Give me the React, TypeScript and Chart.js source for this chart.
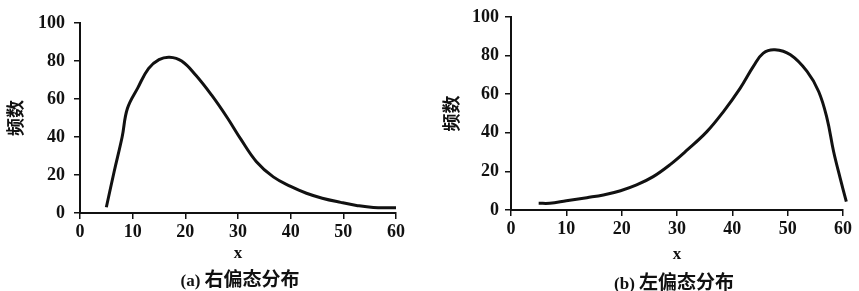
import React, { useEffect, useRef } from "react";
import { Chart, registerables } from "chart.js";

Chart.register(...registerables);

// ---- data ----
const xTicks = [0, 10, 20, 30, 40, 50, 60];
const yTicks = [0, 20, 40, 60, 80, 100];
const yTitle = "频数";
const xTitle = "x";
const captionA = ["(a)", "右偏态分布"];
const captionB = ["(b)", "左偏态分布"];

// (a) right-skewed
const rightSkewX = [5, 6.5, 8, 9, 11, 13, 15, 17, 19.3, 22, 25, 28, 30.5, 33.5, 36.7, 40, 43, 46, 49.5, 52.5, 55.7, 60];
const rightSkewY = [3, 22, 40, 55, 66, 76, 80.7, 82, 80, 72.5, 62, 50, 39, 27, 19, 14, 10.4, 7.8, 5.6, 4, 2.9, 2.8];

// (b) left-skewed
const leftSkewX = [5, 7, 10, 13.7, 16.7, 19.8, 22.7, 25.7, 28.7, 31.8, 35.4, 38.4, 41.4, 43.8, 45.6, 47.7, 50.5, 53.5, 55.6, 57.1, 58.3, 59.5, 60.6];
const leftSkewY = [3.5, 3.5, 4.8, 6.4, 7.8, 10, 13, 17.3, 23.4, 31, 40.6, 51, 63, 74.4, 81.3, 83, 80.4, 71.8, 61.4, 47.6, 30.3, 16.4, 4.3];

const INK = "#111";
const SERIF = '"Liberation Serif", "Times New Roman", serif';
const CJK = '"Noto Sans CJK SC", sans-serif';

type PanelProps = {
  left: number;
  width: number;
  xs: number[];
  ys: number[];
  padTop: number;
  padRight: number;
  yAxisWidth: number;
  xAxisHeight: number;
  yTitlePad: number;
  xTitlePad: number;
  yTickPad: number;
  caption: string[];
  captionCenter: number;
  captionTop: number;
};

function Panel(p: PanelProps) {
  const ref = useRef<HTMLCanvasElement>(null);
  useEffect(() => {
    const chart = new Chart(ref.current as HTMLCanvasElement, {
      type: "line",
      data: {
        datasets: [
          {
            data: p.xs.map((x, i) => ({ x, y: p.ys[i] })),
            borderColor: INK,
            borderWidth: 3,
            pointRadius: 0,
            fill: false,
            tension: 0.4,
            clip: false as any,
          },
        ],
      },
      options: {
        responsive: false,
        animation: false,
        layout: { padding: { top: p.padTop, right: p.padRight, left: 0, bottom: 0 } },
        plugins: { legend: { display: false }, tooltip: { enabled: false }, title: { display: false } },
        scales: {
          x: {
            type: "linear",
            min: xTicks[0],
            max: xTicks[xTicks.length - 1],
            afterBuildTicks: (s: any) => {
              s.ticks = xTicks.map((v) => ({ value: v }));
            },
            afterFit: (s: any) => {
              s.height = p.xAxisHeight;
            },
            grid: { drawOnChartArea: false, drawTicks: true, tickLength: 6, color: INK, lineWidth: 1.5 },
            border: { display: true, color: INK, width: 2 },
            ticks: {
              color: INK,
              font: { family: SERIF, size: 18, weight: "bold" },
              padding: 3,
              maxRotation: 0,
              autoSkip: false,
            },
            title: {
              display: true,
              text: xTitle,
              color: INK,
              font: { family: SERIF, size: 17, weight: "bold" },
              padding: { top: 0, bottom: p.xTitlePad },
            },
          },
          y: {
            type: "linear",
            min: yTicks[0],
            max: yTicks[yTicks.length - 1],
            afterBuildTicks: (s: any) => {
              s.ticks = yTicks.map((v) => ({ value: v }));
            },
            afterFit: (s: any) => {
              s.width = p.yAxisWidth;
            },
            grid: { drawOnChartArea: false, drawTicks: true, tickLength: 6, color: INK, lineWidth: 1.5 },
            border: { display: true, color: INK, width: 2 },
            ticks: {
              color: INK,
              font: { family: SERIF, size: 18, weight: "bold" },
              padding: p.yTickPad,
            },
            title: {
              display: true,
              text: yTitle,
              color: INK,
              font: { family: CJK, size: 18, weight: "bold" },
              padding: { top: p.yTitlePad, bottom: 0 },
            },
          },
        },
      },
    });
    return () => chart.destroy();
  }, []);

  return (
    <>
      <canvas
        ref={ref}
        width={p.width}
        height={291}
        style={{ position: "absolute", left: p.left, top: 0, width: p.width, height: 291 }}
      />
      <div
        style={{
          position: "absolute",
          left: p.captionCenter - 110,
          width: 220,
          top: p.captionTop,
          textAlign: "center",
          lineHeight: "22px",
          color: INK,
          whiteSpace: "nowrap",
        }}
      >
        <span style={{ fontFamily: SERIF, fontSize: 17, fontWeight: "bold" }}>{p.caption[0]}</span>
        <span style={{ fontFamily: CJK, fontSize: 19, fontWeight: "bold", marginLeft: 4 }}>{p.caption[1]}</span>
      </div>
    </>
  );
}

export default function App() {
  return (
    <div
      style={{
        position: "absolute",
        left: 0,
        top: 0,
        width: 859,
        height: 291,
        background: "#fff",
        overflow: "hidden",
      }}
    >
      <Panel
        left={0}
        width={430}
        xs={rightSkewX}
        ys={rightSkewY}
        padTop={23}
        padRight={34}
        yAxisWidth={80}
        xAxisHeight={78}
        yTitlePad={4}
        xTitlePad={27}
        yTickPad={9}
        caption={captionA}
        captionCenter={240}
        captionTop={267}
      />
      <Panel
        left={429}
        width={430}
        xs={leftSkewX}
        ys={leftSkewY}
        padTop={17}
        padRight={16}
        yAxisWidth={82}
        xAxisHeight={81}
        yTitlePad={11}
        xTitlePad={26}
        yTickPad={6}
        caption={captionB}
        captionCenter={674}
        captionTop={270}
      />
    </div>
  );
}
